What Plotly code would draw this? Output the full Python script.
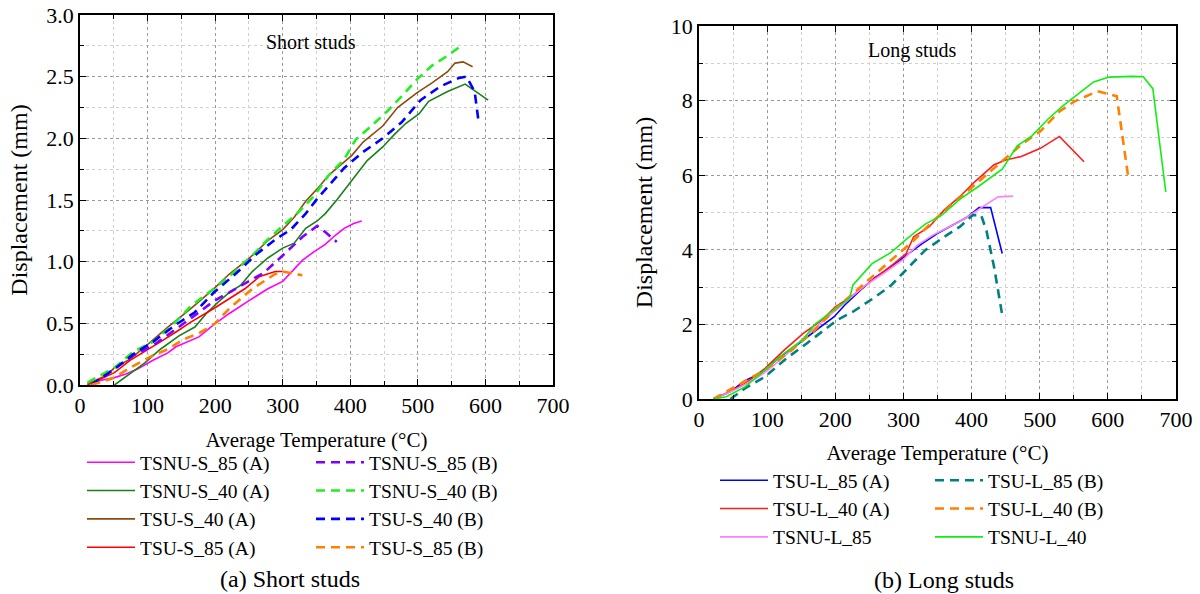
import plotly.graph_objects as go

FONT = "Liberation Serif"

# ---------------- (a) Short studs ----------------
tsnu_s85a_t = [14, 51, 68, 85, 108, 130, 142, 159, 176, 198, 221, 249, 278, 300, 317, 329, 346, 363, 377, 391, 405, 417]
tsnu_s85a_d = [0.02, 0.06, 0.09, 0.13, 0.2, 0.26, 0.31, 0.35, 0.39, 0.49, 0.58, 0.68, 0.78, 0.84, 0.94, 1.01, 1.08, 1.14, 1.21, 1.27, 1.31, 1.33]

tsnu_s85b_t = [17, 51, 79, 108, 142, 164, 198, 221, 244, 272, 300, 329, 351, 363, 380]
tsnu_s85b_d = [0.0, 0.13, 0.24, 0.32, 0.45, 0.54, 0.68, 0.75, 0.82, 0.91, 1.05, 1.2, 1.29, 1.24, 1.16]

tsnu_s40a_t = [51, 74, 96, 119, 147, 170, 187, 204, 221, 238, 255, 278, 300, 317, 334, 351, 363, 380, 402, 425, 448, 465, 482, 502, 516, 544, 570, 604]
tsnu_s40a_d = [0.0, 0.09, 0.18, 0.29, 0.4, 0.47, 0.58, 0.67, 0.75, 0.81, 0.92, 1.03, 1.11, 1.15, 1.27, 1.33, 1.39, 1.5, 1.66, 1.82, 1.93, 2.03, 2.12, 2.2, 2.3, 2.38, 2.44, 2.31]

tsnu_s40b_t = [11, 51, 79, 108, 136, 164, 198, 227, 255, 278, 300, 323, 346, 368, 391, 408, 431, 453, 476, 499, 521, 544, 564]
tsnu_s40b_d = [0.02, 0.14, 0.27, 0.35, 0.48, 0.64, 0.78, 0.91, 1.05, 1.18, 1.29, 1.4, 1.53, 1.7, 1.83, 1.99, 2.1, 2.21, 2.34, 2.48, 2.59, 2.67, 2.75]

tsu_s40a_t = [11, 40, 51, 74, 96, 130, 164, 198, 221, 249, 278, 300, 317, 334, 351, 368, 385, 402, 419, 448, 470, 499, 521, 544, 555, 567, 581]
tsu_s40a_d = [0.01, 0.08, 0.14, 0.21, 0.31, 0.47, 0.62, 0.78, 0.9, 1.02, 1.17, 1.26, 1.36, 1.49, 1.59, 1.7, 1.78, 1.86, 1.97, 2.1, 2.25, 2.37, 2.45, 2.54, 2.61, 2.62, 2.58]

tsu_s40b_t = [17, 51, 79, 108, 142, 170, 198, 232, 261, 289, 312, 334, 351, 368, 391, 419, 448, 476, 504, 533, 561, 572, 584, 590]
tsu_s40b_d = [0.0, 0.13, 0.25, 0.35, 0.49, 0.59, 0.75, 0.91, 1.06, 1.18, 1.26, 1.39, 1.51, 1.62, 1.76, 1.89, 2.0, 2.13, 2.31, 2.42, 2.49, 2.5, 2.38, 2.13]

tsu_s85a_t = [11, 51, 74, 96, 119, 142, 164, 198, 221, 244, 266, 289, 300]
tsu_s85a_d = [0.0, 0.1, 0.2, 0.27, 0.35, 0.43, 0.51, 0.62, 0.7, 0.78, 0.88, 0.92, 0.92]

tsu_s85b_t = [17, 51, 74, 108, 130, 153, 176, 198, 221, 255, 289, 300, 329]
tsu_s85b_d = [0.0, 0.06, 0.14, 0.24, 0.29, 0.37, 0.42, 0.49, 0.62, 0.78, 0.9, 0.92, 0.89]

# ---------------- (b) Long studs ----------------
tsu_l85a_t = [21, 46, 68, 91, 119, 147, 175, 198, 214, 237, 259, 282, 304, 327, 349, 372, 394, 411, 428, 445]
tsu_l85a_d = [0.0, 0.2, 0.5, 0.69, 1.13, 1.49, 1.89, 2.2, 2.52, 2.92, 3.27, 3.54, 3.85, 4.16, 4.43, 4.66, 4.88, 5.13, 5.13, 3.9]

tsu_l85b_t = [46, 68, 97, 125, 158, 181, 203, 226, 259, 282, 304, 332, 360, 383, 402, 414, 422, 433, 445]
tsu_l85b_d = [0.0, 0.29, 0.6, 1.04, 1.49, 1.8, 2.12, 2.34, 2.74, 3.05, 3.46, 3.99, 4.35, 4.62, 4.93, 4.93, 4.5, 3.54, 2.25]

tsu_l40a_t = [21, 40, 68, 97, 125, 153, 181, 200, 220, 242, 271, 287, 304, 315, 338, 360, 383, 405, 433, 450, 473, 501, 529, 565]
tsu_l40a_d = [0.0, 0.15, 0.42, 0.82, 1.31, 1.76, 2.12, 2.47, 2.7, 3.01, 3.41, 3.64, 3.9, 4.35, 4.62, 5.07, 5.43, 5.83, 6.28, 6.41, 6.5, 6.72, 7.04, 6.36]

tsu_l40b_t = [21, 80, 97, 136, 170, 198, 237, 259, 287, 315, 344, 372, 405, 445, 473, 501, 529, 551, 585, 613, 621, 630]
tsu_l40b_d = [0.0, 0.6, 0.78, 1.31, 1.85, 2.38, 3.0, 3.36, 3.8, 4.25, 4.78, 5.22, 5.76, 6.38, 6.82, 7.18, 7.71, 7.98, 8.25, 8.12, 7.1, 5.94]

tsnu_l85_t = [21, 52, 80, 102, 130, 153, 175, 198, 220, 242, 271, 299, 321, 344, 372, 394, 416, 439, 461]
tsnu_l85_d = [0.0, 0.24, 0.51, 0.78, 1.22, 1.63, 1.98, 2.34, 2.66, 3.02, 3.37, 3.73, 4.13, 4.4, 4.66, 4.88, 5.15, 5.42, 5.44]

tsnu_l40_t = [21, 40, 68, 97, 125, 153, 170, 192, 214, 221, 226, 254, 282, 304, 332, 355, 383, 411, 445, 467, 489, 512, 534, 557, 579, 602, 619, 635, 652, 666, 685]
tsnu_l40_d = [0.0, 0.06, 0.33, 0.78, 1.22, 1.6, 2.0, 2.3, 2.6, 2.7, 3.06, 3.63, 3.93, 4.28, 4.69, 4.91, 5.36, 5.71, 6.16, 6.79, 7.06, 7.5, 7.86, 8.2, 8.5, 8.63, 8.65, 8.65, 8.64, 8.32, 5.55]

# name, x, y, colour, style, legend column
short_series = [
    ("TSNU-S_85 (A)", tsnu_s85a_t, tsnu_s85a_d, "#ff00ff", "solid", "legend"),
    ("TSNU-S_40 (A)", tsnu_s40a_t, tsnu_s40a_d, "#1a801a", "solid", "legend"),
    ("TSU-S_40 (A)", tsu_s40a_t, tsu_s40a_d, "#8b4a10", "solid", "legend"),
    ("TSU-S_85 (A)", tsu_s85a_t, tsu_s85a_d, "#ff0000", "solid", "legend"),
    ("TSNU-S_85 (B)", tsnu_s85b_t, tsnu_s85b_d, "#8000ff", "dash", "legend2"),
    ("TSNU-S_40 (B)", tsnu_s40b_t, tsnu_s40b_d, "#22ee22", "dash", "legend2"),
    ("TSU-S_40 (B)", tsu_s40b_t, tsu_s40b_d, "#0000ff", "dash", "legend2"),
    ("TSU-S_85 (B)", tsu_s85b_t, tsu_s85b_d, "#ff8000", "dash", "legend2"),
]

long_series = [
    ("TSU-L_85 (A)", tsu_l85a_t, tsu_l85a_d, "#0000ff", "solid", "legend3"),
    ("TSU-L_40 (A)", tsu_l40a_t, tsu_l40a_d, "#ff1a1a", "solid", "legend3"),
    ("TSNU-L_85", tsnu_l85_t, tsnu_l85_d, "#ff80ff", "solid", "legend3"),
    ("TSU-L_85 (B)", tsu_l85b_t, tsu_l85b_d, "#008080", "dash", "legend4"),
    ("TSU-L_40 (B)", tsu_l40b_t, tsu_l40b_d, "#ff8000", "dash", "legend4"),
    ("TSNU-L_40", tsnu_l40_t, tsnu_l40_d, "#11ee11", "solid", "legend4"),
]

fig = go.Figure()

for series, xa, ya in [(short_series, "x", "y"), (long_series, "x2", "y2")]:
    for name, t, d, color, style, leg in series:
        fig.add_trace(go.Scatter(
            x=t, y=d, mode="lines", name=name, legend=leg,
            xaxis=xa, yaxis=ya,
            line=dict(color=color, width=2.6 if style == "dash" else 1.6,
                      dash="9px,6px" if style == "dash" else "solid"),
        ))

W = 1200.0
H = 594.0


def axis(domain, rng, dtick, minor_dtick, anchor, fmt=None, title=None, title_size=20, standoff=10):
    a = dict(
        domain=domain, range=rng, dtick=dtick, tick0=0, anchor=anchor,
        showline=True, linecolor="black", linewidth=1.5, mirror="allticks",
        ticks="inside", ticklen=6, tickcolor="black", tickwidth=1,
        showgrid=True, gridcolor="#9a9a9a", griddash="dot", gridwidth=1,
        zeroline=False,
        tickfont=dict(family=FONT, size=22, color="black"),
        minor=dict(dtick=minor_dtick, ticks="inside", ticklen=4, tickcolor="black",
                   showgrid=True, gridcolor="#d0d0d0", griddash="dot", gridwidth=1),
    )
    if fmt:
        a["tickformat"] = fmt
    if title:
        a["title"] = dict(text=title, font=dict(family=FONT, size=title_size, color="black"), standoff=standoff)
    return a


def legend_at(x_px, y_px):
    return dict(
        orientation="v", x=x_px / W, y=1 - y_px / H, xanchor="left", yanchor="top",
        bgcolor="rgba(0,0,0,0)", itemwidth=48, tracegroupgap=0,
        font=dict(family=FONT, size=19.5, color="black"), traceorder="normal",
    )


fig.update_layout(
    width=W, height=H,
    margin=dict(l=0, r=0, t=0, b=0, autoexpand=False),
    paper_bgcolor="white", plot_bgcolor="white",
    font=dict(family=FONT, color="black"),
    xaxis=axis([80 / W, 553 / W], [0, 700], 100, 50, "y",
               title="Average Temperature (°C)", title_size=21, standoff=15),
    yaxis=axis([1 - 385 / H, 1 - 15 / H], [0, 3.0], 0.5, 0.25, "x", fmt=".1f",
               title="Displacement (mm)", title_size=24, standoff=12),
    xaxis2=axis([699 / W, 1176 / W], [0, 700], 100, 50, "y2",
                title="Average Temperature (°C)", title_size=21, standoff=14),
    yaxis2=axis([1 - 399 / H, 1 - 26 / H], [0, 10], 2, 1, "x2",
                title="Displacement (mm)", title_size=24, standoff=11),
    legend=legend_at(82, 443),
    legend2=legend_at(311, 443),
    legend3=legend_at(715, 461),
    legend4=legend_at(930, 461),
    annotations=[
        dict(text="Short studs", x=342, y=2.78, xref="x", yref="y", showarrow=False,
             font=dict(family=FONT, size=20, color="black")),
        dict(text="Long studs", x=313, y=9.33, xref="x2", yref="y2", showarrow=False,
             font=dict(family=FONT, size=20, color="black")),
        dict(text="(a) Short studs", x=290 / W, y=1 - 579 / H, xref="paper", yref="paper",
             xanchor="center", yanchor="middle",
             showarrow=False, font=dict(family=FONT, size=24, color="black")),
        dict(text="(b) Long studs", x=944 / W, y=1 - 580 / H, xref="paper", yref="paper",
             xanchor="center", yanchor="middle",
             showarrow=False, font=dict(family=FONT, size=24, color="black")),
    ],
)

# the page body keeps its default 8px margin otherwise
fig.write_html("out.html", config={"displayModeBar": False},
               post_script="document.body.style.margin = '0';")
